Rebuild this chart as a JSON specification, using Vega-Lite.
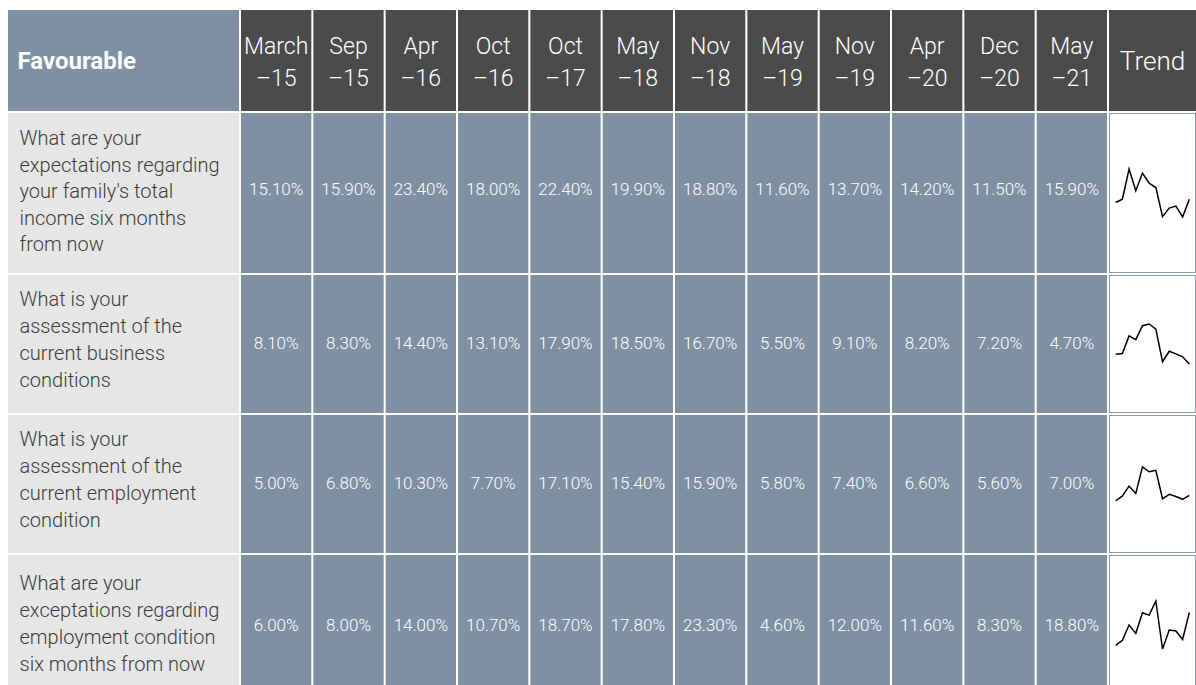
{
  "$schema": "https://vega.github.io/schema/vega-lite/v6.json",
  "padding": {"left": 8, "top": 10, "right": 0, "bottom": 0},
  "background": "white",
  "spacing": 2,
  "config": {
    "view": {"stroke": null},
    "font": "Roboto",
    "text": {"font": "Roboto"}
  },
  "datasets": {
    "labels": [
      {"row": 1, "label": "What are your\nexpectations regarding\nyour family's total\nincome six months\nfrom now"},
      {"row": 2, "label": "What is your\nassessment of the\ncurrent business\nconditions"},
      {"row": 3, "label": "What is your\nassessment of the\ncurrent employment\ncondition"},
      {"row": 4, "label": "What are your\nexceptations regarding\nemployment condition\nsix months from now"}
    ],
    "periods": [
      {"period": "March –15"}, {"period": "Sep –15"}, {"period": "Apr –16"}, {"period": "Oct –16"},
      {"period": "Oct –17"}, {"period": "May –18"}, {"period": "Nov –18"}, {"period": "May –19"},
      {"period": "Nov –19"}, {"period": "Apr –20"}, {"period": "Dec –20"}, {"period": "May –21"}
    ],
    "values": [
      {"row": 1, "period": "March –15", "value": 0.151},
      {"row": 1, "period": "Sep –15", "value": 0.159},
      {"row": 1, "period": "Apr –16", "value": 0.234},
      {"row": 1, "period": "Oct –16", "value": 0.180},
      {"row": 1, "period": "Oct –17", "value": 0.224},
      {"row": 1, "period": "May –18", "value": 0.199},
      {"row": 1, "period": "Nov –18", "value": 0.188},
      {"row": 1, "period": "May –19", "value": 0.116},
      {"row": 1, "period": "Nov –19", "value": 0.137},
      {"row": 1, "period": "Apr –20", "value": 0.142},
      {"row": 1, "period": "Dec –20", "value": 0.115},
      {"row": 1, "period": "May –21", "value": 0.159},
      {"row": 2, "period": "March –15", "value": 0.081},
      {"row": 2, "period": "Sep –15", "value": 0.083},
      {"row": 2, "period": "Apr –16", "value": 0.144},
      {"row": 2, "period": "Oct –16", "value": 0.131},
      {"row": 2, "period": "Oct –17", "value": 0.179},
      {"row": 2, "period": "May –18", "value": 0.185},
      {"row": 2, "period": "Nov –18", "value": 0.167},
      {"row": 2, "period": "May –19", "value": 0.055},
      {"row": 2, "period": "Nov –19", "value": 0.091},
      {"row": 2, "period": "Apr –20", "value": 0.082},
      {"row": 2, "period": "Dec –20", "value": 0.072},
      {"row": 2, "period": "May –21", "value": 0.047},
      {"row": 3, "period": "March –15", "value": 0.050},
      {"row": 3, "period": "Sep –15", "value": 0.068},
      {"row": 3, "period": "Apr –16", "value": 0.103},
      {"row": 3, "period": "Oct –16", "value": 0.077},
      {"row": 3, "period": "Oct –17", "value": 0.171},
      {"row": 3, "period": "May –18", "value": 0.154},
      {"row": 3, "period": "Nov –18", "value": 0.159},
      {"row": 3, "period": "May –19", "value": 0.058},
      {"row": 3, "period": "Nov –19", "value": 0.074},
      {"row": 3, "period": "Apr –20", "value": 0.066},
      {"row": 3, "period": "Dec –20", "value": 0.056},
      {"row": 3, "period": "May –21", "value": 0.070},
      {"row": 4, "period": "March –15", "value": 0.060},
      {"row": 4, "period": "Sep –15", "value": 0.080},
      {"row": 4, "period": "Apr –16", "value": 0.140},
      {"row": 4, "period": "Oct –16", "value": 0.107},
      {"row": 4, "period": "Oct –17", "value": 0.187},
      {"row": 4, "period": "May –18", "value": 0.178},
      {"row": 4, "period": "Nov –18", "value": 0.233},
      {"row": 4, "period": "May –19", "value": 0.046},
      {"row": 4, "period": "Nov –19", "value": 0.120},
      {"row": 4, "period": "Apr –20", "value": 0.116},
      {"row": 4, "period": "Dec –20", "value": 0.083},
      {"row": 4, "period": "May –21", "value": 0.188}
    ]
  },
  "vconcat": [
    {
      "spacing": 2,
      "bounds": "flush",
      "hconcat": [
        {
          "width": 231, "height": 101,
          "data": {"values": [{"title": "Favourable"}]},
          "layer": [
            {"mark": {"type": "rect", "fill": "#7f90a3"}, "encoding": {}},
            {"mark": {"type": "text", "align": "left", "baseline": "middle", "dx": -106, "dy": 1, "fontSize": 24, "fontWeight": "bold", "color": "white"},
             "encoding": {"text": {"field": "title"}}}
          ]
        },
        {
          "width": 866, "height": 101,
          "data": {"name": "periods"},
          "encoding": {"x": {"field": "period", "type": "nominal", "sort": null, "axis": null, "scale": {"paddingInner": 0.028, "paddingOuter": 0}}},
          "layer": [
            {"mark": {"type": "rect", "fill": "#4b4b4b"}},
            {"mark": {"type": "text", "lineBreak": " ", "lineHeight": 32, "baseline": "middle", "fontSize": 23, "fontWeight": 300, "color": "white", "dy": -14},
             "encoding": {"text": {"field": "period"}}}
          ]
        },
        {
          "width": 87, "height": 101,
          "data": {"values": [{"title": "Trend"}]},
          "layer": [
            {"mark": {"type": "rect", "fill": "#4b4b4b"}, "encoding": {}},
            {"mark": {"type": "text", "baseline": "middle", "fontSize": 26, "fontWeight": 300, "color": "white", "dy": 1},
             "encoding": {"text": {"field": "title"}}}
          ]
        }
      ]
    },
    {
      "spacing": 2,
      "bounds": "flush",
      "hconcat": [
        {
          "width": 231, "height": 160,
          "data": {"name": "labels"},
          "transform": [{"filter": "datum.row == 1"}],
          "layer": [
            {"mark": {"type": "rect", "fill": "#e6e6e6"}, "encoding": {}},
            {"mark": {"type": "text", "align": "left", "baseline": "middle", "dx": -104, "dy": -54, "lineBreak": "\n", "lineHeight": 26.5, "fontSize": 20, "fontWeight": 300, "color": "#3c3c3c"},
             "encoding": {"text": {"field": "label"}}}
          ]
        },
        {
          "width": 866, "height": 160,
          "data": {"name": "values"},
          "transform": [{"filter": "datum.row == 1"}],
          "encoding": {"x": {"field": "period", "type": "nominal", "sort": null, "axis": null, "scale": {"paddingInner": 0.028, "paddingOuter": 0}}},
          "layer": [
            {"mark": {"type": "rect", "fill": "#7f90a3"}},
            {"mark": {"type": "text", "baseline": "middle", "fontSize": 17, "fontWeight": 300, "color": "white", "dy": -3},
             "encoding": {"text": {"field": "value", "type": "quantitative", "format": ".2%"}}}
          ]
        },
        {
          "width": 87, "height": 160,
          "data": {"name": "values"},
          "transform": [{"filter": "datum.row == 1"}],
          "layer": [
            {"mark": {"type": "rect", "fill": "white", "stroke": "#8a9ab0", "strokeWidth": 2, "clip": true}, "encoding": {}},
            {"mark": {"type": "line", "color": "black", "strokeWidth": 1.5},
             "encoding": {
               "x": {"field": "period", "type": "nominal", "sort": null, "axis": null, "scale": {"type": "point", "padding": 1.1}},
               "y": {"field": "value", "type": "quantitative", "axis": null, "scale": {"zero": false, "nice": false, "padding": 56}}
             }}
          ]
        }
      ]
    },
    {
      "spacing": 2,
      "bounds": "flush",
      "hconcat": [
        {
          "width": 231, "height": 138,
          "data": {"name": "labels"},
          "transform": [{"filter": "datum.row == 2"}],
          "layer": [
            {"mark": {"type": "rect", "fill": "#e6e6e6"}, "encoding": {}},
            {"mark": {"type": "text", "align": "left", "baseline": "middle", "dx": -104, "dy": -44, "lineBreak": "\n", "lineHeight": 27, "fontSize": 20, "fontWeight": 300, "color": "#3c3c3c"},
             "encoding": {"text": {"field": "label"}}}
          ]
        },
        {
          "width": 866, "height": 138,
          "data": {"name": "values"},
          "transform": [{"filter": "datum.row == 2"}],
          "encoding": {"x": {"field": "period", "type": "nominal", "sort": null, "axis": null, "scale": {"paddingInner": 0.028, "paddingOuter": 0}}},
          "layer": [
            {"mark": {"type": "rect", "fill": "#7f90a3"}},
            {"mark": {"type": "text", "baseline": "middle", "fontSize": 17, "fontWeight": 300, "color": "white"},
             "encoding": {"text": {"field": "value", "type": "quantitative", "format": ".2%"}}}
          ]
        },
        {
          "width": 87, "height": 138,
          "data": {"name": "values"},
          "transform": [{"filter": "datum.row == 2"}],
          "layer": [
            {"mark": {"type": "rect", "fill": "white", "stroke": "#8a9ab0", "strokeWidth": 2, "clip": true}, "encoding": {}},
            {"mark": {"type": "line", "color": "black", "strokeWidth": 1.5},
             "encoding": {
               "x": {"field": "period", "type": "nominal", "sort": null, "axis": null, "scale": {"type": "point", "padding": 1.1}},
               "y": {"field": "value", "type": "quantitative", "axis": null, "scale": {"zero": false, "nice": false, "padding": 49}}
             }}
          ]
        }
      ]
    },
    {
      "spacing": 2,
      "bounds": "flush",
      "hconcat": [
        {
          "width": 231, "height": 138,
          "data": {"name": "labels"},
          "transform": [{"filter": "datum.row == 3"}],
          "layer": [
            {"mark": {"type": "rect", "fill": "#e6e6e6"}, "encoding": {}},
            {"mark": {"type": "text", "align": "left", "baseline": "middle", "dx": -104, "dy": -44, "lineBreak": "\n", "lineHeight": 27, "fontSize": 20, "fontWeight": 300, "color": "#3c3c3c"},
             "encoding": {"text": {"field": "label"}}}
          ]
        },
        {
          "width": 866, "height": 138,
          "data": {"name": "values"},
          "transform": [{"filter": "datum.row == 3"}],
          "encoding": {"x": {"field": "period", "type": "nominal", "sort": null, "axis": null, "scale": {"paddingInner": 0.028, "paddingOuter": 0}}},
          "layer": [
            {"mark": {"type": "rect", "fill": "#7f90a3"}},
            {"mark": {"type": "text", "baseline": "middle", "fontSize": 17, "fontWeight": 300, "color": "white"},
             "encoding": {"text": {"field": "value", "type": "quantitative", "format": ".2%"}}}
          ]
        },
        {
          "width": 87, "height": 138,
          "data": {"name": "values"},
          "transform": [{"filter": "datum.row == 3"}],
          "layer": [
            {"mark": {"type": "rect", "fill": "white", "stroke": "#8a9ab0", "strokeWidth": 2, "clip": true}, "encoding": {}},
            {"mark": {"type": "line", "color": "black", "strokeWidth": 1.5},
             "encoding": {
               "x": {"field": "period", "type": "nominal", "sort": null, "axis": null, "scale": {"type": "point", "padding": 1.1}},
               "y": {"field": "value", "type": "quantitative", "axis": null, "scale": {"zero": false, "nice": false, "padding": 52}}
             }}
          ]
        }
      ]
    },
    {
      "spacing": 2,
      "bounds": "flush",
      "hconcat": [
        {
          "width": 231, "height": 140,
          "data": {"name": "labels"},
          "transform": [{"filter": "datum.row == 4"}],
          "layer": [
            {"mark": {"type": "rect", "fill": "#e6e6e6"}, "encoding": {}},
            {"mark": {"type": "text", "align": "left", "baseline": "middle", "dx": -104, "dy": -41, "lineBreak": "\n", "lineHeight": 27, "fontSize": 20, "fontWeight": 300, "color": "#3c3c3c"},
             "encoding": {"text": {"field": "label"}}}
          ]
        },
        {
          "width": 866, "height": 140,
          "data": {"name": "values"},
          "transform": [{"filter": "datum.row == 4"}],
          "encoding": {"x": {"field": "period", "type": "nominal", "sort": null, "axis": null, "scale": {"paddingInner": 0.028, "paddingOuter": 0}}},
          "layer": [
            {"mark": {"type": "rect", "fill": "#7f90a3"}},
            {"mark": {"type": "text", "baseline": "middle", "fontSize": 17, "fontWeight": 300, "color": "white", "dy": 1},
             "encoding": {"text": {"field": "value", "type": "quantitative", "format": ".2%"}}}
          ]
        },
        {
          "width": 87, "height": 140,
          "data": {"name": "values"},
          "transform": [{"filter": "datum.row == 4"}],
          "layer": [
            {"mark": {"type": "rect", "fill": "white", "stroke": "#8a9ab0", "strokeWidth": 2, "clip": true}, "encoding": {}},
            {"mark": {"type": "line", "color": "black", "strokeWidth": 1.5},
             "encoding": {
               "x": {"field": "period", "type": "nominal", "sort": null, "axis": null, "scale": {"type": "point", "padding": 1.1}},
               "y": {"field": "value", "type": "quantitative", "axis": null, "scale": {"zero": false, "nice": false, "padding": 46}}
             }}
          ]
        }
      ]
    }
  ]
}
